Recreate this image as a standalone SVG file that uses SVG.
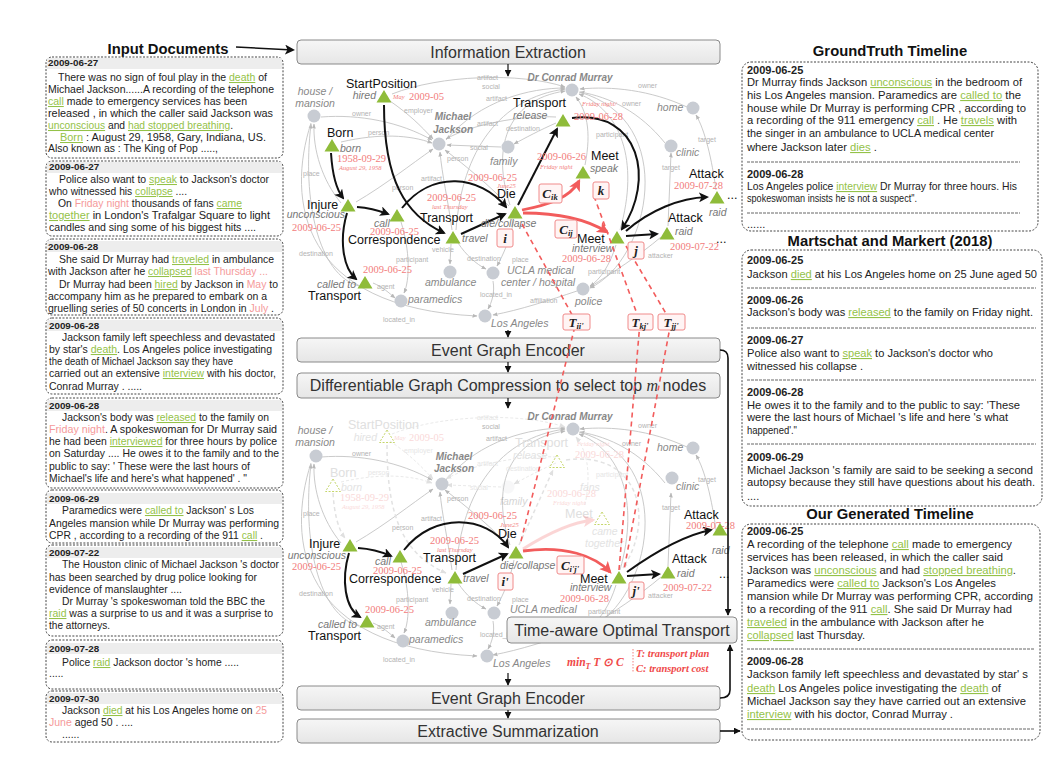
<svg xmlns="http://www.w3.org/2000/svg" xmlns:xlink="http://www.w3.org/1999/xlink" width="1056" height="761" viewBox="0 0 1056 761">
<style>
text{font-family:"Liberation Sans",Arial,sans-serif}
.doc{font-size:10.4px;fill:#222}
.rdoc{font-size:11px;fill:#222}
.d{font-weight:bold;font-size:9.8px}
.rd{font-weight:bold;font-size:11px}
.gw{fill:#94c248;text-decoration:underline}
.rw{fill:#f59a9a}
.box{fill:none;stroke:#444;stroke-width:1;stroke-dasharray:2 1.5}
.band{fill:#ededed}
.sep{stroke:#666;stroke-width:1;stroke-dasharray:3 1}
.h{font-size:14.8px;font-weight:bold;fill:#111;text-anchor:middle}
.stg{fill:url(#sg);stroke:#8a8a8a;stroke-width:1}
.st{font-size:16px;fill:#333;text-anchor:middle}
.ev{font-size:12.5px;fill:#111}
.trg{font-size:10.5px;font-style:italic;fill:#777}
.ent{font-size:10.5px;font-style:italic;fill:#888}
.entb{font-size:10px;font-style:italic;font-weight:bold;fill:#888;text-anchor:middle}
.dt{font-family:"Liberation Serif",serif;font-size:10.5px;fill:#f27c7c}
.dts{font-family:"Liberation Serif",serif;font-size:6.5px;font-style:italic;fill:#f27c7c}
.tri{fill:#8fbc3a}
.trif{fill:none;stroke:#c5d66a;stroke-width:1;stroke-dasharray:2 1.5}
.ec{fill:#c8ccd3}
.fev{font-size:12.5px;fill:#e0e0e0}
.ftr{font-size:10.5px;font-style:italic;fill:#e3e3e3}
.fdt{font-family:"Liberation Serif",serif;font-size:10.5px;fill:#fad9d9}
.fdts{font-family:"Liberation Serif",serif;font-size:6.5px;font-style:italic;fill:#fad9d9}
.gE{fill:none;stroke:#c4c4c4;stroke-width:0.9;marker-end:url(#mG)}
.gEf{fill:none;stroke:#e6e6e6;stroke-width:0.9;stroke-dasharray:3 2;marker-end:url(#mGf)}
.el{font-size:7px;fill:#b3b3b3}
.elf{font-size:7px;fill:#e6e6e6}
.be{fill:none;stroke:#111;stroke-width:2;marker-end:url(#mB)}
.re{fill:none;stroke:#f25c5c;stroke-width:2.8;marker-end:url(#mR)}
.rdash{fill:none;stroke:#f25c5c;stroke-width:1.6;stroke-dasharray:5 4}
.fe{fill:none;stroke:#e2e2e2;stroke-width:1.5;stroke-dasharray:4 3;marker-end:url(#mGf)}
.lb{fill:#fff4f4;stroke:#f08a8a;stroke-width:1}
.lt{font-family:"Liberation Serif",serif;font-size:13px;font-style:italic;font-weight:bold;fill:#222;text-anchor:middle}
.sa{fill:none;stroke:#111;stroke-width:1.2;marker-end:url(#mS)}
.fm{font-family:"Liberation Serif",serif;font-style:italic;font-weight:bold;fill:#f04a4a}
</style>
<defs>
<linearGradient id="sg" x1="0" y1="0" x2="0" y2="1"><stop offset="0" stop-color="#f6f6f6"/><stop offset="1" stop-color="#e6e6e6"/></linearGradient>
<marker id="mB" viewBox="0 0 10 10" refX="8" refY="5" markerWidth="10" markerHeight="10" markerUnits="userSpaceOnUse" orient="auto"><path d="M0,0 L10,5 L0,10 L2.5,5 z" fill="#111"/></marker>
<marker id="mR" viewBox="0 0 10 10" refX="8" refY="5" markerWidth="12" markerHeight="12" markerUnits="userSpaceOnUse" orient="auto"><path d="M0,0 L10,5 L0,10 L2.5,5 z" fill="#f25c5c"/></marker>
<marker id="mS" viewBox="0 0 10 10" refX="9" refY="5" markerWidth="7" markerHeight="7" markerUnits="userSpaceOnUse" orient="auto"><path d="M0,0 L10,5 L0,10 z" fill="#111"/></marker>
<marker id="mG" viewBox="0 0 10 10" refX="9" refY="5" markerWidth="5" markerHeight="5" markerUnits="userSpaceOnUse" orient="auto"><path d="M0,1 L10,5 L0,9 z" fill="#b8b8b8"/></marker>
<marker id="mGf" viewBox="0 0 10 10" refX="9" refY="5" markerWidth="6" markerHeight="6" markerUnits="userSpaceOnUse" orient="auto"><path d="M0,1 L10,5 L0,9 z" fill="#e0e0e0"/></marker>
<path id="tri" d="M0,-7 L7.5,5.5 L-7.5,5.5 Z"/>
<g id="gcore">
<path d="M321,117 C360,114 400,122 432,140"/>
<path d="M356,202 C385,185 410,165 433,149"/>
<path d="M341,203 C322,180 313,150 314,124"/>
<path d="M359,286 C318,275 302,200 311,124"/>
<path d="M311,123 C286,200 300,308 477,316"/>
<path d="M452,230 C448,200 442,175 440,152"/>
<path d="M509,206 C490,186 466,166 445,150"/>
<path d="M451,244 L450,264"/>
<path d="M458,243 C466,255 476,264 486,269"/>
<path d="M401,222 C410,250 410,280 404,293"/>
<path d="M373,283 C383,287 389,293 395,298"/>
<path d="M493,281 C495,292 492,302 488,309"/>
<path d="M514,220 C510,240 503,255 497,266"/>
<path d="M577,291 C550,300 520,310 493,315"/>
<path d="M616,245 C610,265 600,280 590,286"/>
<path d="M661,237 C640,255 612,273 590,287"/>
<path d="M668,226 L671,153"/>
<path d="M716,190 C712,160 705,130 696,115"/>
<path d="M687,107 C650,90 612,86 580,89"/>
<path d="M665,143 C640,112 610,97 580,92"/>
<path d="M510,205 C492,150 505,100 565,91"/>
<path d="M456,230 C462,150 500,98 565,89"/>
<path d="M620,230 C640,160 620,110 579,94"/>
<path d="M579,92 C680,120 650,260 590,288"/>
<path d="M446,140 C480,100 530,88 565,88"/>
</g>
<g id="lcore">
<text x="352" y="116">owner</text><text x="392" y="190">person</text><text x="303" y="176">place</text>
<text x="299" y="256">destination</text><text x="383" y="322">located_in</text><text x="421" y="181">artifact</text>
<text x="447" y="161">person</text><text x="432" y="252">vehicle</text><text x="467" y="261">destination</text>
<text x="396" y="262">participant</text><text x="377" y="289">agent</text><text x="480" y="297">located_in</text>
<text x="512" y="262">place</text><text x="530" y="303">affiliation</text><text x="588" y="274">participant</text>
<text x="648" y="258">attacker</text><text x="662" y="170">target</text><text x="698" y="142">target</text>
<text x="638" y="88">owner</text><text x="622" y="106">owner</text><text x="486" y="101">artifact</text>
<text x="482" y="89">social</text>
</g>
<g id="gfade">
<path d="M390,101 C410,115 420,125 433,139"/>
<path d="M392,94 C440,75 520,72 565,87"/>
<path d="M341,142 C380,133 410,135 432,143"/>
<path d="M501,147 L447,145"/>
<path d="M556,123 C540,130 525,138 514,144"/>
<path d="M556,117 C520,115 470,125 446,139"/>
<path d="M585,165 C592,130 586,110 576,97"/>
</g>
<g id="lfade">
<text x="404" y="113">employer</text><text x="477" y="80">artifact</text><text x="368" y="135">person</text>
<text x="470" y="150">social</text><text x="506" y="131">destination</text><text x="477" y="126">artifact</text>
<text x="596" y="137">participant</text>
</g>
</defs>

<rect width="1056" height="761" fill="#ffffff"/>

<!-- Left column: input documents -->
<g id="input-documents">
<text class="h" x="168" y="54">Input Documents</text>
<g id="doc1">
<rect class="box" x="46" y="57" width="237" height="101" rx="6"/>
<rect class="band" x="47" y="58" width="235" height="11"/>
<text class="doc d" x="48" y="66">2009-06-27</text>
<text class="doc" x="58" y="81" textLength="209" lengthAdjust="spacingAndGlyphs">There was no sign of foul play in the <tspan class="gw">death</tspan> of</text>
<text class="doc" x="48" y="93" textLength="226" lengthAdjust="spacingAndGlyphs">Michael Jackson......A recording of the telephone</text>
<text class="doc" x="48" y="105" textLength="199" lengthAdjust="spacingAndGlyphs"><tspan class="gw">call</tspan> made to emergency services has been</text>
<text class="doc" x="48" y="117" textLength="225" lengthAdjust="spacingAndGlyphs">released , in which the caller said Jackson was</text>
<text class="doc" x="48" y="129" textLength="185" lengthAdjust="spacingAndGlyphs"><tspan class="gw">unconscious</tspan> and <tspan class="gw">had stopped breathing</tspan>.</text>
<text class="doc" x="60" y="141" textLength="206" lengthAdjust="spacingAndGlyphs"><tspan class="gw">Born</tspan> : August 29, 1958, Gary, Indiana, US.</text>
<text class="doc" x="48" y="152" textLength="170" lengthAdjust="spacingAndGlyphs">Also known as : The King of Pop .....,</text>
</g>
<g id="doc2">
<rect class="box" x="46" y="161" width="237" height="75" rx="6"/>
<rect class="band" x="47" y="162" width="235" height="11"/>
<text class="doc d" x="49" y="170">2009-06-27</text>
<text class="doc" x="59" y="183" textLength="210" lengthAdjust="spacingAndGlyphs">Police also want to <tspan class="gw">speak</tspan> to Jackson's doctor</text>
<text class="doc" x="49" y="195" textLength="138" lengthAdjust="spacingAndGlyphs">who witnessed his <tspan class="gw">collapse</tspan> ....</text>
<text class="doc" x="58" y="207" textLength="184" lengthAdjust="spacingAndGlyphs">On <tspan class="rw">Friday night</tspan> thousands of fans <tspan class="gw">came</tspan></text>
<text class="doc" x="49" y="219" textLength="221" lengthAdjust="spacingAndGlyphs"><tspan class="gw">together</tspan> in London's Trafalgar Square to light</text>
<text class="doc" x="49" y="231" textLength="207" lengthAdjust="spacingAndGlyphs">candles and sing some of his biggest hits ....</text>
</g>
<g id="doc3">
<rect class="box" x="46" y="239" width="237" height="76" rx="6"/>
<rect class="band" x="47" y="241" width="235" height="11"/>
<text class="doc d" x="48" y="250">2009-06-28</text>
<text class="doc" x="59" y="263" textLength="215" lengthAdjust="spacingAndGlyphs">She said Dr Murray had <tspan class="gw">traveled</tspan> in ambulance</text>
<text class="doc" x="48" y="275" textLength="220" lengthAdjust="spacingAndGlyphs">with Jackson after he <tspan class="gw">collapsed</tspan> <tspan class="rw">last Thursday ...</tspan></text>
<text class="doc" x="59" y="288" textLength="219" lengthAdjust="spacingAndGlyphs">Dr Murray had been <tspan class="gw">hired</tspan> by Jackson in <tspan class="rw">May</tspan> to</text>
<text class="doc" x="48" y="300" textLength="219" lengthAdjust="spacingAndGlyphs">accompany him as he prepared to embark on a</text>
<text class="doc" x="48" y="312" textLength="226" lengthAdjust="spacingAndGlyphs">gruelling series of 50 concerts in London in <tspan class="rw">July</tspan> .</text>
</g>
<g id="doc4">
<rect class="box" x="46" y="318" width="237" height="76" rx="6"/>
<rect class="band" x="47" y="320" width="235" height="11"/>
<text class="doc d" x="49" y="329">2009-06-28</text>
<text class="doc" x="62" y="341" textLength="213" lengthAdjust="spacingAndGlyphs">Jackson family left speechless and devastated</text>
<text class="doc" x="49" y="353" textLength="223" lengthAdjust="spacingAndGlyphs">by star's <tspan class="gw">death</tspan>. Los Angeles police investigating</text>
<text class="doc" x="49" y="365" textLength="184" lengthAdjust="spacingAndGlyphs">the death of Michael Jackson say they have</text>
<text class="doc" x="49" y="377" textLength="227" lengthAdjust="spacingAndGlyphs">carried out an extensive <tspan class="gw">interview</tspan> with his doctor,</text>
<text class="doc" x="49" y="390" textLength="93" lengthAdjust="spacingAndGlyphs">Conrad Murray . .....</text>
</g>
<g id="doc5">
<rect class="box" x="46" y="398" width="237" height="90" rx="6"/>
<rect class="band" x="47" y="400" width="235" height="11"/>
<text class="doc d" x="49" y="409">2009-06-28</text>
<text class="doc" x="62" y="421" textLength="207" lengthAdjust="spacingAndGlyphs">Jackson's body was <tspan class="gw">released</tspan> to the family on</text>
<text class="doc" x="49" y="433" textLength="228" lengthAdjust="spacingAndGlyphs"><tspan class="rw">Friday night</tspan>. A spokeswoman for Dr Murray said</text>
<text class="doc" x="49" y="445" textLength="228" lengthAdjust="spacingAndGlyphs">he had been <tspan class="gw">interviewed</tspan> for three hours by police</text>
<text class="doc" x="49" y="457" textLength="230" lengthAdjust="spacingAndGlyphs">on Saturday .... He owes it to the family and to the</text>
<text class="doc" x="49" y="470" textLength="201" lengthAdjust="spacingAndGlyphs">public to say: ' These were the last hours of</text>
<text class="doc" x="49" y="482" textLength="198" lengthAdjust="spacingAndGlyphs">Michael's life and here's what happened' . "</text>
</g>
<g id="doc6">
<rect class="box" x="46" y="490" width="237" height="53" rx="6"/>
<rect class="band" x="47" y="493" width="235" height="11"/>
<text class="doc d" x="49" y="502">2009-06-29</text>
<text class="doc" x="62" y="514" textLength="192" lengthAdjust="spacingAndGlyphs">Paramedics were <tspan class="gw">called to</tspan> Jackson' s Los</text>
<text class="doc" x="49" y="527" textLength="230" lengthAdjust="spacingAndGlyphs">Angeles mansion while Dr Murray was performing</text>
<text class="doc" x="49" y="539" textLength="214" lengthAdjust="spacingAndGlyphs">CPR , according to a recording of the 911 <tspan class="gw">call</tspan> .</text>
</g>
<g id="doc7">
<rect class="box" x="46" y="545" width="237" height="91" rx="6"/>
<rect class="band" x="47" y="547" width="235" height="11"/>
<text class="doc d" x="49" y="556">2009-07-22</text>
<text class="doc" x="62" y="568" textLength="217" lengthAdjust="spacingAndGlyphs">The Houston clinic of Michael Jackson 's doctor</text>
<text class="doc" x="49" y="581" textLength="208" lengthAdjust="spacingAndGlyphs">has been searched by drug police looking for</text>
<text class="doc" x="49" y="593" textLength="133" lengthAdjust="spacingAndGlyphs">evidence of manslaughter ....</text>
<text class="doc" x="62" y="605" textLength="203" lengthAdjust="spacingAndGlyphs">Dr Murray 's spokeswoman told the BBC the</text>
<text class="doc" x="49" y="617" textLength="224" lengthAdjust="spacingAndGlyphs"><tspan class="gw">raid</tspan> was a surprise to us and it was a surprise to</text>
<text class="doc" x="49" y="629" textLength="61" lengthAdjust="spacingAndGlyphs">the attorneys.</text>
</g>
<g id="doc8">
<rect class="box" x="46" y="640" width="237" height="49" rx="6"/>
<rect class="band" x="47" y="643" width="235" height="11"/>
<text class="doc d" x="49" y="652">2009-07-28</text>
<text class="doc" x="62" y="666" textLength="177" lengthAdjust="spacingAndGlyphs">Police <tspan class="gw">raid</tspan> Jackson doctor 's home .....</text>
<text class="doc" x="49" y="677">.....</text>
</g>
<g id="doc9">
<rect class="box" x="46" y="691" width="237" height="51" rx="6"/>
<rect class="band" x="47" y="693" width="235" height="11"/>
<text class="doc d" x="49" y="702">2009-07-30</text>
<text class="doc" x="62" y="714" textLength="205" lengthAdjust="spacingAndGlyphs">Jackson <tspan class="gw">died</tspan> at his Los Angeles home on <tspan class="rw">25</tspan></text>
<text class="doc" x="49" y="726" textLength="84" lengthAdjust="spacingAndGlyphs"><tspan class="rw">June</tspan> aged 50 . ....</text>
<text class="doc" x="62" y="738">......</text>
</g>
</g>

<!-- Right column -->
<g id="groundtruth">
<text class="h" x="890" y="56">GroundTruth Timeline</text>
<rect class="box" x="742" y="62" width="296" height="169" rx="9"/>
<text class="rdoc rd" x="747" y="74">2009-06-25</text>
<text class="rdoc" x="747" y="86" textLength="275" lengthAdjust="spacingAndGlyphs">Dr Murray finds Jackson <tspan class="gw">unconscious</tspan> in the bedroom of</text>
<text class="rdoc" x="747" y="99" textLength="274" lengthAdjust="spacingAndGlyphs">his Los Angeles mansion. Paramedics are <tspan class="gw">called to</tspan> the</text>
<text class="rdoc" x="747" y="112" textLength="279" lengthAdjust="spacingAndGlyphs">house while Dr Murray is performing CPR , according to</text>
<text class="rdoc" x="747" y="124" textLength="270" lengthAdjust="spacingAndGlyphs">a recording of the 911 emergency <tspan class="gw">call</tspan> . He <tspan class="gw">travels</tspan> with</text>
<text class="rdoc" x="747" y="137" textLength="247" lengthAdjust="spacingAndGlyphs">the singer in an ambulance to UCLA medical center</text>
<text class="rdoc" x="747" y="151" textLength="130" lengthAdjust="spacingAndGlyphs">where Jackson later <tspan class="gw">dies</tspan> .</text>
<line class="sep" x1="747" y1="162" x2="1020" y2="162"/>
<text class="rdoc rd" x="747" y="178">2009-06-28</text>
<text class="rdoc" x="747" y="190" textLength="270" lengthAdjust="spacingAndGlyphs">Los Angeles police <tspan class="gw">interview</tspan> Dr Murray for three hours. His</text>
<text class="rdoc" x="747" y="202" textLength="170" lengthAdjust="spacingAndGlyphs">spokeswoman insists he is not a suspect".</text>
<line class="sep" x1="747" y1="213" x2="1020" y2="213"/>
<text class="rdoc" x="747" y="228" font-size="8">......</text>
</g>
<g id="martschat">
<text class="h" x="890" y="246">Martschat and Markert (2018)</text>
<rect class="box" x="742" y="250" width="300" height="256" rx="9"/>
<text class="rdoc rd" x="747" y="264">2009-06-25</text>
<text class="rdoc" x="747" y="278" textLength="290" lengthAdjust="spacingAndGlyphs">Jackson <tspan class="gw">died</tspan> at his Los Angeles home on 25 June aged 50</text>
<line class="sep" x1="747" y1="288" x2="1036" y2="288"/>
<text class="rdoc rd" x="747" y="304">2009-06-26</text>
<text class="rdoc" x="747" y="316" textLength="286" lengthAdjust="spacingAndGlyphs">Jackson's body was <tspan class="gw">released</tspan> to the family on Friday night.</text>
<line class="sep" x1="747" y1="328" x2="1036" y2="328"/>
<text class="rdoc rd" x="747" y="344">2009-06-27</text>
<text class="rdoc" x="747" y="357" textLength="246" lengthAdjust="spacingAndGlyphs">Police also want to <tspan class="gw">speak</tspan> to Jackson's doctor who</text>
<text class="rdoc" x="747" y="370" textLength="116" lengthAdjust="spacingAndGlyphs">witnessed his collapse .</text>
<line class="sep" x1="747" y1="380" x2="1036" y2="380"/>
<text class="rdoc rd" x="747" y="396">2009-06-28</text>
<text class="rdoc" x="747" y="409" textLength="273" lengthAdjust="spacingAndGlyphs">He owes it to the family and to the public to say: 'These</text>
<text class="rdoc" x="747" y="421" textLength="261" lengthAdjust="spacingAndGlyphs">were the last hours of Michael 's life and here 's what</text>
<text class="rdoc" x="747" y="434" textLength="50" lengthAdjust="spacingAndGlyphs">happened'."</text>
<line class="sep" x1="747" y1="444" x2="1036" y2="444"/>
<text class="rdoc rd" x="747" y="461">2009-06-29</text>
<text class="rdoc" x="747" y="474" textLength="286" lengthAdjust="spacingAndGlyphs">Michael Jackson 's family are said to be seeking a second</text>
<text class="rdoc" x="747" y="486" textLength="288" lengthAdjust="spacingAndGlyphs">autopsy because they still have questions about his death.</text>
<text class="rdoc" x="747" y="500" font-size="8">....</text>
</g>
<g id="generated">
<text class="h" x="890" y="519">Our Generated Timeline</text>
<rect class="box" x="742" y="524" width="298" height="216" rx="9"/>
<text class="rdoc rd" x="747" y="535">2009-06-25</text>
<text class="rdoc" x="747" y="548" textLength="265" lengthAdjust="spacingAndGlyphs">A recording of the telephone <tspan class="gw">call</tspan> made to emergency</text>
<text class="rdoc" x="747" y="561" textLength="256" lengthAdjust="spacingAndGlyphs">services has been released, in which the caller said</text>
<text class="rdoc" x="747" y="574" textLength="269" lengthAdjust="spacingAndGlyphs">Jackson was <tspan class="gw">unconscious</tspan> and had <tspan class="gw">stopped breathing</tspan>.</text>
<text class="rdoc" x="747" y="587" textLength="249" lengthAdjust="spacingAndGlyphs">Paramedics were <tspan class="gw">called to</tspan> Jackson's Los Angeles</text>
<text class="rdoc" x="747" y="600" textLength="286" lengthAdjust="spacingAndGlyphs">mansion while Dr Murray was performing CPR, according</text>
<text class="rdoc" x="747" y="613" textLength="265" lengthAdjust="spacingAndGlyphs">to a recording of the 911 <tspan class="gw">call</tspan>. She said Dr Murray had</text>
<text class="rdoc" x="747" y="626" textLength="237" lengthAdjust="spacingAndGlyphs"><tspan class="gw">traveled</tspan> in the ambulance with Jackson after he</text>
<text class="rdoc" x="747" y="639" textLength="118" lengthAdjust="spacingAndGlyphs"><tspan class="gw">collapsed</tspan> last Thursday.</text>
<line class="sep" x1="747" y1="649" x2="1034" y2="649"/>
<text class="rdoc rd" x="747" y="665">2009-06-28</text>
<text class="rdoc" x="747" y="678" textLength="281" lengthAdjust="spacingAndGlyphs">Jackson family left speechless and devastated by star' s</text>
<text class="rdoc" x="747" y="692" textLength="254" lengthAdjust="spacingAndGlyphs"><tspan class="gw">death</tspan> Los Angeles police investigating the <tspan class="gw">death</tspan> of</text>
<text class="rdoc" x="747" y="705" textLength="279" lengthAdjust="spacingAndGlyphs">Michael Jackson say they have carried out an extensive</text>
<text class="rdoc" x="747" y="718" textLength="206" lengthAdjust="spacingAndGlyphs"><tspan class="gw">interview</tspan> with his doctor, Conrad Murray .</text>
<line class="sep" x1="747" y1="729" x2="1034" y2="729"/>
</g>

<!-- Pipeline stages -->
<g id="stage-ie"><rect class="stg" x="297" y="40" width="423" height="24" rx="4"/><text class="st" x="508" y="57.5">Information Extraction</text></g>
<g id="stage-enc1"><rect class="stg" x="297" y="338" width="423" height="24" rx="4"/><text class="st" x="508" y="355.5">Event Graph Encoder</text></g>
<g id="stage-comp"><rect class="stg" x="297" y="373" width="423" height="25" rx="4"/><text class="st" x="508" y="391">Differentiable Graph Compression to select top <tspan font-family="Liberation Serif,serif" font-style="italic">m</tspan> nodes</text></g>
<g id="stage-enc2"><rect class="stg" x="297" y="686" width="423" height="24" rx="4"/><text class="st" x="508" y="703.5">Event Graph Encoder</text></g>
<g id="stage-sum"><rect class="stg" x="297" y="719" width="423" height="24" rx="4"/><text class="st" x="508" y="736.5">Extractive Summarization</text></g>

<!-- Top graph: gray relation edges -->
<g id="top-gray-edges">
<use xlink:href="#gcore" class="gE"/>
<use xlink:href="#gfade" class="gE"/>
<use xlink:href="#lcore" class="el"/>
<use xlink:href="#lfade" class="el"/>
</g>

<!-- Top graph entities -->
<g id="t-house"><circle class="ec" cx="314" cy="116" r="6.5"/><text class="ent" x="315" y="95" text-anchor="middle">house /</text><text class="ent" x="315" y="107" text-anchor="middle">mansion</text></g>
<g id="t-mj"><circle class="ec" cx="439" cy="144" r="6.5"/><text class="entb" x="453" y="120">Michael</text><text class="entb" x="453" y="133">Jackson</text></g>
<g id="t-dcm"><circle class="ec" cx="572" cy="90" r="6.5"/><text class="entb" x="570" y="81">Dr Conrad Murray</text></g>
<g id="t-family"><circle class="ec" cx="508" cy="147" r="6.5"/><text class="ent" x="490" y="165">family</text></g>
<g id="t-home"><circle class="ec" cx="693" cy="108" r="6.5"/><text class="ent" x="657" y="111">home</text></g>
<g id="t-clinic"><circle class="ec" cx="671" cy="146" r="6.5"/><text class="ent" x="676" y="156">clinic</text></g>
<g id="t-ambulance"><circle class="ec" cx="450" cy="272" r="6.5"/><text class="ent" x="425" y="286">ambulance</text></g>
<g id="t-ucla"><circle class="ec" cx="493" cy="273" r="6.5"/><text class="ent" x="507" y="274">UCLA medical</text><text class="ent" x="501" y="286">center / hospital</text></g>
<g id="t-paramedics"><circle class="ec" cx="401" cy="301" r="6.5"/><text class="ent" x="408" y="303">paramedics</text></g>
<g id="t-la"><circle class="ec" cx="485" cy="316" r="6.5"/><text class="ent" x="491" y="327">Los Angeles</text></g>
<g id="t-police"><circle class="ec" cx="583" cy="289" r="6.5"/><text class="ent" x="575" y="305">police</text></g>

<!-- Top graph connectors -->
<g id="top-connectors">
<path class="be" d="M331,153 Q333,185 343,198"/>
<path class="be" d="M357,207 Q372,208 388,214"/>
<path class="be" d="M347,213 C339,240 343,268 356,279"/>
<path class="be" d="M384,105 C384,180 405,215 444,233"/>
<path class="be" d="M402,208 C432,170 480,175 506,207"/>
<path class="be" d="M461,234 L505,214"/>
<path class="be" d="M518,205 L557,129"/>
<path class="be" d="M572,118 C640,110 655,180 622,229"/>
<path class="be" d="M626,236 L657,234"/>
<path class="be" d="M626,231 C650,210 680,198 707,197"/>
<path class="re" d="M522,210 C548,205 570,198 579,181"/>
<path class="re" d="M523,213 C560,213 588,220 607,232"/>
</g>

<!-- Top graph events -->
<g id="t-startposition"><text class="ev" x="346" y="88">StartPosition</text><use xlink:href="#tri" class="tri" x="384" y="97"/><text class="trg" x="376" y="99" text-anchor="end">hired</text><text class="dts" x="393" y="99">May</text><text class="dt" x="409" y="100">2009-05</text></g>
<g id="t-born"><text class="ev" x="327" y="137">Born</text><use xlink:href="#tri" class="tri" x="332" y="146"/><text class="trg" x="340" y="152">born</text><text class="dt" x="337" y="162">1958-09-29</text><text class="dts" x="339" y="170">August 29, 1958</text></g>
<g id="t-injure"><text class="ev" x="307" y="209">Injure</text><use xlink:href="#tri" class="tri" x="348" y="206"/><text class="trg" x="345" y="218" text-anchor="end">unconscious</text><text class="dt" x="341" y="231" text-anchor="end">2009-06-25</text></g>
<g id="t-call"><text class="trg" x="374" y="227">call</text><use xlink:href="#tri" class="tri" x="397" y="216"/><text class="dt" x="370" y="235">2009-06-25</text><text class="ev" x="348" y="244">Correspondence</text></g>
<g id="t-calledto"><text class="dt" x="363" y="273">2009-06-25</text><text class="trg" x="317" y="288">called to</text><use xlink:href="#tri" class="tri" x="365" y="283"/><text class="ev" x="308" y="300">Transport</text></g>
<g id="t-travel"><text class="dt" x="427" y="201">2009-06-25</text><text class="dts" x="432" y="209">last Thursday</text><text class="ev" x="420" y="222">Transport</text><use xlink:href="#tri" class="tri" x="453" y="238"/><text class="trg" x="462" y="242">travel</text></g>
<g id="t-die"><text class="dt" x="468" y="181">2009-06-25</text><text class="dts" x="497" y="188">June25</text><text class="ev" x="497" y="198">Die</text><use xlink:href="#tri" class="tri" x="515" y="213"/><text class="trg" x="481" y="227">die/collapse</text></g>
<g id="t-release"><text class="ev" x="513" y="107">Transport</text><text class="trg" x="513" y="119">release</text><use xlink:href="#tri" class="tri" x="563" y="121"/><text class="dts" x="582" y="106">Friday night/</text><text class="dt" x="574" y="120">2009-06-28</text></g>
<g id="t-meet-speak"><text class="dt" x="537" y="160">2009-06-26</text><text class="dts" x="540" y="169">Friday night</text><text class="ev" x="591" y="160">Meet</text><use xlink:href="#tri" class="tri" x="583" y="173"/><text class="trg" x="590" y="172">speak</text></g>
<g id="t-meet-interview"><text class="ev" x="577" y="243">Meet</text><use xlink:href="#tri" class="tri" x="617" y="238"/><text class="trg" x="572" y="252">interview</text><text class="dt" x="562" y="262">2009-06-28</text></g>
<g id="t-attack1"><text class="ev" x="668" y="222">Attack</text><use xlink:href="#tri" class="tri" x="667" y="234"/><text class="trg" x="675" y="235">raid</text><text class="dt" x="670" y="250">2009-07-22</text><text class="ev" x="716" y="243">...</text></g>
<g id="t-attack2"><text class="ev" x="689" y="178">Attack</text><text class="dt" x="674" y="189">2009-07-28</text><use xlink:href="#tri" class="tri" x="717" y="198"/><text class="trg" x="709" y="216">raid</text><text class="ev" x="727" y="199">...</text></g>

<!-- Bottom graph: gray relation edges -->
<g id="bottom-gray-edges">
<use xlink:href="#gcore" class="gE" transform="translate(0,340)"/>
<use xlink:href="#gfade" class="gEf" transform="translate(0,340)"/>
<use xlink:href="#lcore" class="el" transform="translate(0,340)"/>
<use xlink:href="#lfade" class="elf" transform="translate(0,340)"/>
</g>

<!-- Bottom graph entities -->
<g id="b-house"><circle class="ec" cx="316" cy="456" r="6.5"/><text class="ent" x="315" y="434" text-anchor="middle">house /</text><text class="ent" x="315" y="446" text-anchor="middle">mansion</text></g>
<g id="b-mj"><circle class="ec" cx="442" cy="484" r="6.5"/><text class="entb" x="454" y="460">Michael</text><text class="entb" x="454" y="472">Jackson</text></g>
<g id="b-dcm"><circle class="ec" cx="573" cy="429" r="6.5"/><text class="entb" x="570" y="420">Dr Conrad Murray</text></g>
<g id="b-family" opacity="0.35"><circle class="ec" cx="508" cy="487" r="6.5" opacity="0.4"/><text class="ent" x="500" y="505" fill="#ccc">family</text></g>
<g id="b-home"><circle class="ec" cx="693" cy="448" r="6.5"/><text class="ent" x="657" y="451">home</text></g>
<g id="b-clinic"><circle class="ec" cx="672" cy="478" r="6.5"/><text class="ent" x="676" y="490">clinic</text></g>
<g id="b-ambulance"><circle class="ec" cx="452" cy="613" r="6.5"/><text class="ent" x="425" y="626">ambulance</text></g>
<g id="b-ucla"><circle class="ec" cx="494" cy="613" r="6.5"/><text class="ent" x="510" y="613">UCLA medical</text></g>
<g id="b-paramedics"><circle class="ec" cx="403" cy="641" r="6.5"/><text class="ent" x="409" y="643">paramedics</text></g>
<g id="b-la"><circle class="ec" cx="487" cy="656" r="6.5"/><text class="ent" x="493" y="667">Los Angeles</text></g>
<g id="b-police"><circle class="ec" cx="583" cy="629" r="6.5"/></g>

<!-- Bottom graph faded (dropped) events -->
<g id="b-startposition"><text class="fev" x="348" y="429">StartPosition</text><use xlink:href="#tri" class="trif" x="387" y="437"/><text class="ftr" x="377" y="441" text-anchor="end">hired</text><text class="fdts" x="394" y="440">May</text><text class="fdt" x="409" y="441">2009-05</text></g>
<g id="b-born"><text class="fev" x="330" y="477">Born</text><use xlink:href="#tri" class="trif" x="333" y="486"/><text class="ftr" x="341" y="491">born</text><text class="fdt" x="340" y="501">1958-09-29</text><text class="fdts" x="342" y="509">August 29, 1958</text></g>
<g id="b-release"><text class="fev" x="515" y="447">Transport</text><text class="ftr" x="513" y="459">release</text><use xlink:href="#tri" class="trif" x="557" y="462"/><text class="fdts" x="577" y="446">Friday night</text><text class="fdt" x="575" y="458">2009-06-28</text></g>
<g id="b-meet-came"><text class="ftr" x="580" y="491">fans</text><text class="fdt" x="547" y="497">2009-06-28</text><text class="fdts" x="553" y="505">Friday night</text><text class="fev" x="565" y="518">Meet</text><use xlink:href="#tri" class="trif" x="602" y="519"/><text class="ftr" x="592" y="535">came</text><text class="ftr" x="585" y="547">together</text></g>

<!-- Bottom graph connectors -->
<g id="bottom-connectors">
<path class="fe" d="M333,493 Q335,525 345,538"/>
<path class="fe" d="M387,445 C387,520 405,555 446,573"/>
<path class="fe" d="M519,545 L553,470"/>
<path class="fe" d="M566,460 C640,450 655,520 623,568"/>
<path class="be" d="M358,548 Q375,549 391,556"/>
<path class="be" d="M349,553 C341,580 345,608 360,617"/>
<path class="be" d="M404,550 C434,512 486,515 508,547"/>
<path class="be" d="M463,574 L507,554"/>
<path class="be" d="M627,576 L659,574"/>
<path class="be" d="M627,572 C655,552 685,535 711,530"/>
<path class="re" d="M523,549 C550,532 575,522 593,520" opacity="0.25"/>
<path class="re" d="M523,551 C565,545 595,556 610,572"/>
</g>

<!-- Bottom graph retained events -->
<g id="b-injure"><text class="ev" x="309" y="548">Injure</text><use xlink:href="#tri" class="tri" x="350" y="546"/><text class="trg" x="346" y="559" text-anchor="end">unconscious</text><text class="dt" x="341" y="570" text-anchor="end">2009-06-25</text></g>
<g id="b-call"><text class="trg" x="375" y="565">call</text><use xlink:href="#tri" class="tri" x="400" y="557"/><text class="dt" x="373" y="574">2009-06-25</text><text class="ev" x="349" y="583">Correspondence</text></g>
<g id="b-calledto"><text class="dt" x="365" y="613">2009-06-25</text><text class="trg" x="318" y="628">called to</text><use xlink:href="#tri" class="tri" x="367" y="622"/><text class="ev" x="308" y="640">Transport</text></g>
<g id="b-travel"><text class="dt" x="430" y="544">2009-06-25</text><text class="dts" x="437" y="552">last Thursday</text><text class="ev" x="423" y="562">Transport</text><use xlink:href="#tri" class="tri" x="455" y="578"/><text class="trg" x="463" y="582">travel</text></g>
<g id="b-die"><text class="dt" x="468" y="519">2009-06-25</text><text class="dts" x="500" y="527">June25</text><text class="ev" x="498" y="538">Die</text><use xlink:href="#tri" class="tri" x="516" y="553"/><text class="trg" x="500" y="569">die/collapse</text></g>
<g id="b-meet"><text class="ev" x="580" y="583">Meet</text><use xlink:href="#tri" class="tri" x="619" y="578"/><text class="trg" x="570" y="591">interview</text><text class="dt" x="560" y="602">2009-06-28</text></g>
<g id="b-attack1"><text class="ev" x="672" y="563">Attack</text><use xlink:href="#tri" class="tri" x="668" y="573"/><text class="trg" x="677" y="577">raid</text><text class="dt" x="663" y="591">2009-07-22</text><text class="ev" x="719" y="578">...</text></g>
<g id="b-attack2"><text class="ev" x="684" y="519">Attack</text><text class="dt" x="686" y="529">2009-07-28</text><use xlink:href="#tri" class="tri" x="720" y="530"/><text class="trg" x="712" y="554">raid</text></g>

<!-- Transport plan correspondences -->
<g id="ot-connectors">
<path class="rdash" d="M522,224 L576,322 L520,545"/>
<path class="rdash" d="M594,196 L640,322 L619,570"/>
<path class="rdash" d="M626,246 L671,322 L624,570"/>
</g>

<!-- Label boxes -->
<g id="lbl-i"><rect class="lb" x="497" y="229" width="16" height="18" rx="2"/><text class="lt" x="505" y="243">i</text></g>
<g id="lbl-k"><rect class="lb" x="593" y="182" width="16" height="17" rx="2"/><text class="lt" x="601" y="195">k</text></g>
<g id="lbl-j"><rect class="lb" x="628" y="242" width="16" height="17" rx="2"/><text class="lt" x="636" y="255">j</text></g>
<g id="lbl-cik"><rect class="lb" x="539" y="184" width="23" height="19" rx="2"/><text class="lt" x="550" y="198">C<tspan font-size="8.5" dy="2">ik</tspan></text></g>
<g id="lbl-cij"><rect class="lb" x="555" y="220" width="22" height="18" rx="2"/><text class="lt" x="566" y="234">C<tspan font-size="8.5" dy="2">ij</tspan></text></g>
<g id="lbl-tii"><rect class="lb" x="563" y="314" width="27" height="16" rx="2"/><text class="lt" x="576" y="327">T<tspan font-size="8.5" dy="2">ii'</tspan></text></g>
<g id="lbl-tkj"><rect class="lb" x="628" y="314" width="25" height="16" rx="2"/><text class="lt" x="640" y="327">T<tspan font-size="8.5" dy="2">kj'</tspan></text></g>
<g id="lbl-tjj"><rect class="lb" x="658" y="314" width="27" height="16" rx="2"/><text class="lt" x="671" y="327">T<tspan font-size="8.5" dy="2">jj'</tspan></text></g>
<g id="lbl-ip"><rect class="lb" x="498" y="573" width="15" height="17" rx="2"/><text class="lt" x="505" y="586">i'</text></g>
<g id="lbl-jp"><rect class="lb" x="629" y="582" width="15" height="17" rx="2"/><text class="lt" x="636" y="595">j'</text></g>
<g id="lbl-cipjp"><rect class="lb" x="557" y="556" width="27" height="18" rx="2"/><text class="lt" x="570" y="570">C<tspan font-size="8.5" dy="2">i'j'</tspan></text></g>

<!-- Time-aware OT stage and formula -->
<g id="stage-ot"><rect class="stg" x="507" y="617" width="230" height="26" rx="4"/><text class="st" x="622" y="635.5">Time-aware Optimal Transport</text></g>
<g id="ot-formula">
<text class="fm" x="567" y="666" font-size="11.5">min<tspan font-size="8" dy="3">T</tspan><tspan dy="-3"> T ⊙ C</tspan></text>
<line x1="633" y1="649" x2="633" y2="673" stroke="#f08080" stroke-width="1" stroke-dasharray="1.5 1.5"/>
<text class="fm" x="636" y="657" font-size="10.5">T: transport plan</text>
<text class="fm" x="636" y="672" font-size="10.5">C: transport cost</text>
</g>

<!-- Pipeline arrows -->
<g id="pipeline-connectors">
<path class="be" d="M236,47 L293,50" style="stroke-width:1.5"/>
<path class="sa" d="M508,64 L508,76"/>
<path class="sa" d="M508,330 L508,337"/>
<path class="sa" d="M508,362 L508,372"/>
<path class="sa" d="M508,398 L508,408"/>
<path class="sa" d="M508,673 L508,685"/>
<path class="sa" d="M508,710 L508,718"/>
<path class="sa" d="M720,350 Q728,350 728,358 L728,615" style="stroke-width:1.6"/>
<path class="sa" d="M720,698 Q730,698 730,690 L730,645" style="stroke-width:1.6"/>
<path class="sa" d="M720,731 L740,731" style="stroke-width:1.6"/>
</g>
</svg>
